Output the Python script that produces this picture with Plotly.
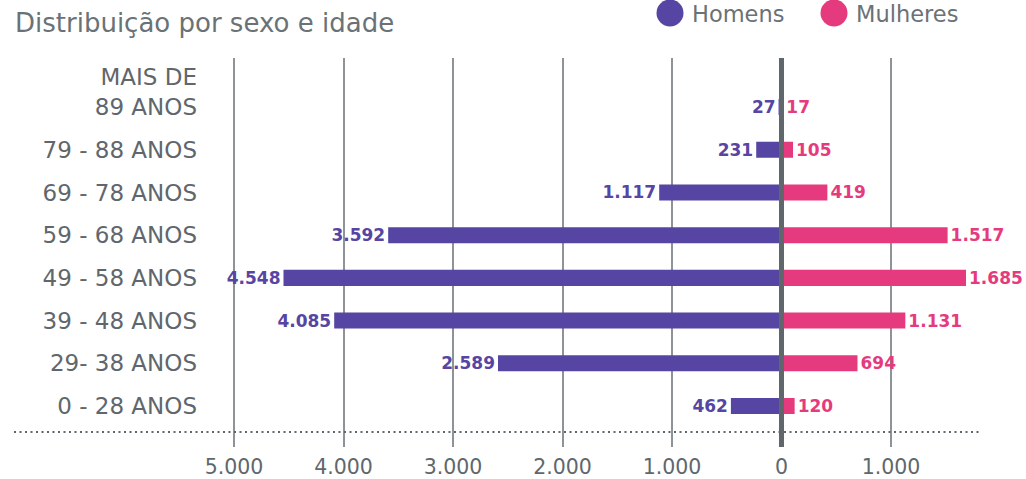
import plotly.graph_objects as go

categories = ["0 - 28 ANOS", "29- 38 ANOS", "39 - 48 ANOS", "49 - 58 ANOS",
              "59 - 68 ANOS", "69 - 78 ANOS", "79 - 88 ANOS", "MAIS DE<br>89 ANOS<br> "]
homens = [462, 2589, 4085, 4548, 3592, 1117, 231, 27]
mulheres = [120, 694, 1131, 1685, 1517, 419, 105, 17]
tick_vals = [-5000, -4000, -3000, -2000, -1000, 0, 1000]
tick_text = ["5.000", "4.000", "3.000", "2.000", "1.000", "0", "1.000"]

PURPLE = "#5745a3"
PINK = "#e63a7e"
GRAY = "#5f676c"
GRID = "#8d9397"
FONT = "DejaVu Sans"

W, H = 1026, 479
L, R, T, B = 215, 983, 58, 447
ZERO_PX = 781.5
PX_PER_1000 = 109.5
ROW0_PX, ROW_STEP = 406, 42.71


def px(x):
    return (x - L) / (R - L)


def py(y):
    return (B - y) / (B - T)


def fmt(v):
    return f"{v:,}".replace(",", ".")


ypos = list(range(len(categories)))

fig = go.Figure()
fig.add_trace(go.Bar(
    y=ypos, x=[-v for v in homens], orientation="h", width=0.375,
    marker=dict(color=PURPLE, line=dict(width=0)),
    text=[fmt(v) for v in homens], textposition="outside",
    textfont=dict(family=FONT, size=17, color=PURPLE, weight="bold"),
    cliponaxis=False, constraintext="none", hoverinfo="skip", showlegend=False,
))
fig.add_trace(go.Bar(
    y=ypos, x=mulheres, orientation="h", width=0.375,
    marker=dict(color=PINK, line=dict(width=0)),
    text=[fmt(v) for v in mulheres], textposition="outside",
    textfont=dict(family=FONT, size=17, color=PINK, weight="bold"),
    cliponaxis=False, constraintext="none", hoverinfo="skip", showlegend=False,
))

fig.update_layout(
    width=W, height=H, barmode="overlay",
    margin=dict(l=L, r=W - R, t=T, b=H - B, autoexpand=False),
    paper_bgcolor="white", plot_bgcolor="white",
    font=dict(family=FONT, color=GRAY),
    xaxis=dict(range=[-(ZERO_PX - L) / PX_PER_1000 * 1000, (R - ZERO_PX) / PX_PER_1000 * 1000],
               tickvals=tick_vals, ticktext=tick_text, automargin=False,
               showgrid=True, gridcolor=GRID, gridwidth=1.5, zeroline=False,
               showline=False, ticks="outside", ticklen=1, tickcolor="rgba(0,0,0,0)",
               tickfont=dict(family=FONT, size=20.5, color=GRAY), fixedrange=True),
    yaxis=dict(range=[-(B - ROW0_PX) / ROW_STEP, (ROW0_PX - T) / ROW_STEP],
               tickvals=ypos, ticktext=categories, automargin=False,
               showgrid=False, zeroline=False, showline=False, ticks="",
               ticklabelstandoff=17,
               tickfont=dict(family=FONT, size=23, color=GRAY), fixedrange=True),
    showlegend=False,
)

# zero line above bars
fig.add_shape(type="line", xref="x", yref="paper", x0=0, x1=0, y0=py(447), y1=py(58),
              line=dict(color=GRAY, width=5), layer="above")
# dotted baseline
fig.add_shape(type="line", xref="paper", yref="paper", x0=px(14), x1=px(981),
              y0=py(432), y1=py(432), line=dict(color=GRAY, width=2, dash="2px,3.5px"),
              layer="above")

# title
fig.add_annotation(text="Distribuição por sexo e idade", xref="paper", yref="paper",
                   x=px(13), y=py(23), xanchor="left", yanchor="middle", showarrow=False,
                   font=dict(family=FONT, size=26, color="#6a7276"))

# legend
for cx, color, label in [(670, PURPLE, "Homens"), (834, PINK, "Mulheres")]:
    fig.add_shape(type="circle", xref="paper", yref="paper", xsizemode="pixel", ysizemode="pixel",
                  xanchor=px(cx), yanchor=py(13), x0=-13.5, x1=13.5, y0=-13.5, y1=13.5,
                  fillcolor=color, line=dict(width=0))
    fig.add_annotation(text=label, xref="paper", yref="paper", x=px(cx + 20), y=py(14),
                       xanchor="left", yanchor="middle", showarrow=False,
                       font=dict(family=FONT, size=22.5, color="#6a7276"))

fig.write_html("out.html")
